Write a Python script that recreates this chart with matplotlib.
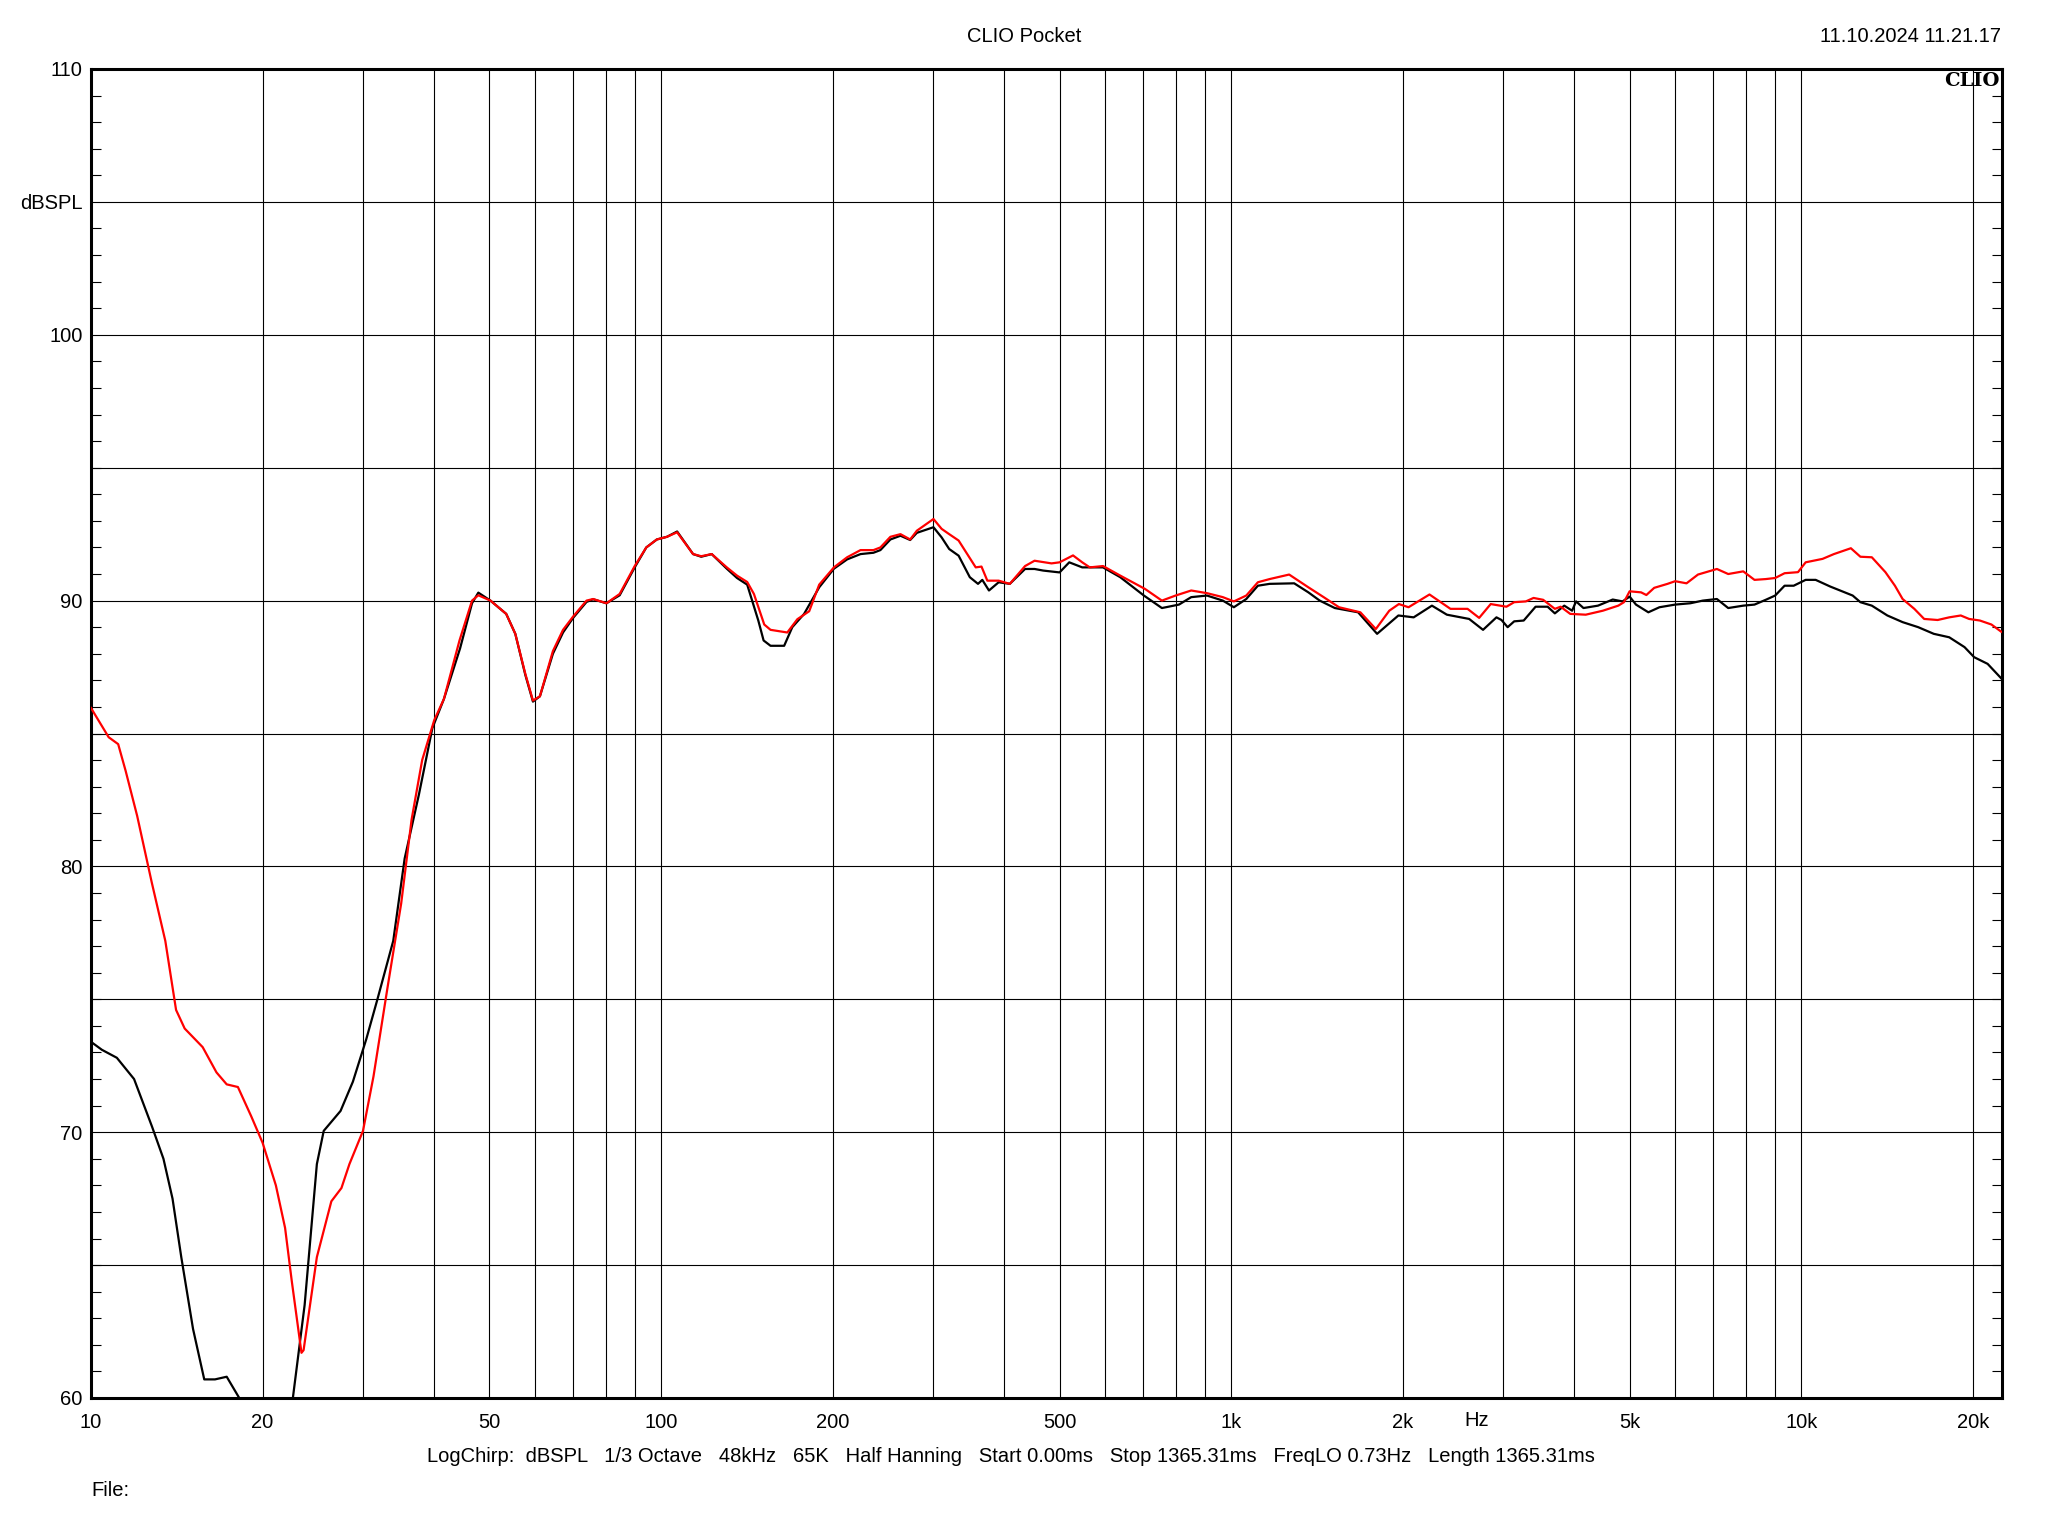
import matplotlib

matplotlib.use("Agg")
import matplotlib.pyplot as plt
from matplotlib.ticker import FixedLocator, FixedFormatter, MultipleLocator

plt.rcParams["font.family"] = ["Liberation Sans", "DejaVu Sans"]

# black trace (Hz, dBSPL); values below 60 are clipped by the axes
black_hz = [10, 10.45, 11.1, 11.9, 12.8, 13.4, 13.9, 14.4, 15.1, 15.8, 16.5, 17.3, 18.2, 19.5,
            21.5, 22.6, 23.7, 24.9, 25.6, 27.4, 28.8, 30.4, 31.8, 33.9, 35.5, 37.6, 39.7, 41.6,
            44.4, 46.6, 47.8, 50.2, 53.5, 55.5, 57.8, 59.6, 61.3, 64.6, 67.3, 70.1, 74.0, 76.0,
            80.2, 84.6, 89.9, 94.2, 98.3, 102.4, 106.7, 113.8, 117.6, 122.7, 130.4, 135.9, 141.6,
            148.1, 151.3, 155.6, 164.4, 169.9, 178.2, 189.4, 201, 212, 223.8, 235.8, 242.5, 252.5,
            263, 273.5, 281, 300.5, 310.5, 320.2, 332.6, 348, 359.7, 366, 376, 391, 409, 435, 452,
            468, 500, 520, 548, 596, 639, 703, 756, 810, 851, 907, 967, 1011, 1063, 1114, 1168,
            1290, 1366, 1430, 1520, 1670, 1803, 1965, 2090, 2250, 2390, 2615, 2766, 2920, 2980,
            3055, 3137, 3260, 3420, 3590, 3697, 3840, 3964, 4027, 4150, 4400, 4670, 4860, 5000,
            5130, 5393, 5640, 6010, 6390, 6720, 7113, 7446, 7912, 8280, 8665, 9000, 9350, 9700,
            10180, 10600, 11240, 11800, 12310, 12700, 13300, 14160, 15060, 16040, 17080, 18180,
            19340, 20110, 21230, 22600]
black_db = [73.4, 73.1, 72.8, 72.0, 70.2, 69.0, 67.5, 65.3, 62.6, 60.7, 60.7, 60.8, 60.0, 56.0,
            56.0, 60.0, 63.5, 68.8, 70.05, 70.8, 71.9, 73.5, 75.0, 77.2, 80.3, 82.7, 85.2, 86.3,
            88.2, 89.9, 90.3, 90.0, 89.5, 88.75, 87.2, 86.2, 86.4, 88.0, 88.8, 89.35, 89.95, 90.05,
            89.9, 90.2, 91.25, 92.0, 92.3, 92.4, 92.6, 91.75, 91.65, 91.75, 91.2, 90.85, 90.6,
            89.25, 88.5, 88.3, 88.3, 89.0, 89.5, 90.5, 91.2, 91.55, 91.75, 91.8, 91.9, 92.3,
            92.44, 92.28, 92.55, 92.76, 92.38, 91.94, 91.69, 90.88, 90.63, 90.78, 90.38, 90.69,
            90.63, 91.19, 91.19, 91.13, 91.06, 91.44, 91.25, 91.25, 90.88, 90.19, 89.72, 89.85,
            90.13, 90.19, 90.0, 89.75, 90.06, 90.56, 90.63, 90.65, 90.31, 90.0, 89.72, 89.56,
            88.75, 89.44, 89.37, 89.81, 89.47, 89.31, 88.9, 89.37, 89.27, 89.0, 89.22, 89.25,
            89.77, 89.77, 89.52, 89.81, 89.62, 89.97, 89.72, 89.81, 90.04, 89.97, 90.15, 89.85,
            89.56, 89.75, 89.85, 89.9, 90.0, 90.06, 89.72, 89.81, 89.85, 90.03, 90.19, 90.56,
            90.56, 90.78, 90.78, 90.53, 90.35, 90.19, 89.94, 89.81, 89.44, 89.19, 89.0, 88.75,
            88.62, 88.25, 87.87, 87.62, 87.0]

# red trace (Hz, dBSPL)
red_hz = [10, 10.74, 11.16, 11.5, 12.05, 12.78, 13.5, 14.1, 14.6, 15.7, 16.6, 17.3, 18.1, 19.1,
          20.0, 21.1, 21.9, 22.5, 23.4, 23.6, 24.9, 26.4, 27.5, 28.4, 30.0, 31.3, 33.1, 35.0,
          36.5, 38.1, 40.0, 41.6, 44.3, 46.6, 47.8, 50.2, 53.5, 55.5, 57.8, 59.6, 61.3, 64.6,
          67.3, 70.1, 74.0, 76.0, 80.2, 84.6, 89.9, 94.2, 98.3, 102.4, 106.7, 113.8, 117.6,
          122.7, 130.4, 135.9, 141.6, 145.5, 151.7, 155.6, 166.5, 173.4, 181.9, 189.4, 201, 212,
          223.8, 235.8, 242.5, 252.5, 263, 273.5, 281, 300.5, 310.5, 320.2, 332.6, 345.5, 356.4,
          364.8, 373.5, 391, 409, 435, 452, 484, 500, 528, 548, 565, 596, 639, 706, 756, 799,
          851, 907, 967, 1011, 1063, 1114, 1168, 1264, 1366, 1453, 1546, 1685, 1794, 1894, 1969,
          2047, 2228, 2425, 2598, 2723, 2853, 3040, 3137, 3288, 3392, 3526, 3697, 3784, 3934,
          4188, 4488, 4776, 4887, 5000, 5237, 5350, 5522, 5827, 6010, 6292, 6590, 7113, 7446,
          7912, 8280, 8665, 9000, 9350, 9870, 10180, 10900, 11410, 12220, 12700, 13300, 14050,
          14600, 15060, 15790, 16430, 17350, 18180, 19050, 19700, 20580, 21560, 22430]
red_db = [85.96, 84.86, 84.6, 83.6, 81.9, 79.4, 77.2, 74.6, 73.9, 73.2, 72.25, 71.8, 71.7, 70.6,
          69.6, 68.0, 66.4, 64.4, 61.7, 61.8, 65.3, 67.4, 67.9, 68.8, 70.05, 72.1, 75.4, 78.6,
          81.75, 84.0, 85.5, 86.3, 88.5, 90.0, 90.2, 90.0, 89.5, 88.75, 87.24, 86.24, 86.4, 88.1,
          88.9, 89.4, 90.0, 90.06, 89.9, 90.25, 91.3, 92.0, 92.3, 92.4, 92.57, 91.75, 91.67,
          91.75, 91.25, 90.94, 90.7, 90.25, 89.1, 88.9, 88.8, 89.3, 89.6, 90.6, 91.25, 91.63,
          91.9, 91.9, 92.0, 92.4, 92.5, 92.3, 92.63, 93.07, 92.7, 92.5, 92.26, 91.7, 91.25,
          91.28, 90.75, 90.75, 90.63, 91.3, 91.5, 91.4, 91.44, 91.7, 91.44, 91.25, 91.3, 90.94,
          90.44, 90.0, 90.19, 90.38, 90.28, 90.13, 89.97, 90.19, 90.69, 90.81, 90.98, 90.5,
          90.13, 89.75, 89.56, 88.93, 89.62, 89.87, 89.75, 90.23, 89.69, 89.69, 89.35, 89.87,
          89.77, 89.94, 89.97, 90.1, 90.03, 89.69, 89.77, 89.5, 89.47, 89.62, 89.81, 89.94,
          90.35, 90.31, 90.21, 90.48, 90.63, 90.73, 90.65, 90.98, 91.19, 91.0, 91.1, 90.78,
          90.81, 90.85, 91.03, 91.07, 91.44, 91.57, 91.75, 91.97, 91.65, 91.63, 91.07, 90.56,
          90.06, 89.69, 89.31, 89.27, 89.37, 89.44, 89.31, 89.25, 89.1, 88.83]

x_ticks = [10, 20, 50, 100, 200, 500, 1000, 2000, 5000, 10000, 20000]
x_labels = ["10", "20", "50", "100", "200", "500", "1k", "2k", "5k", "10k", "20k"]
x_grid = [20, 30, 40, 50, 60, 70, 80, 90, 100, 200, 300, 400, 500, 600, 700, 800, 900,
          1000, 2000, 3000, 4000, 5000, 6000, 7000, 8000, 9000, 10000, 20000]
y_ticks = [60, 70, 80, 90, 100, 105, 110]
y_labels = ["60", "70", "80", "90", "100", "dBSPL", "110"]

FS = 14.5
W, H = 2048, 1536
fig = plt.figure(figsize=(W / 100, H / 100), dpi=100)
ax = fig.add_axes([91 / W, 1 - 1398 / H, (2002 - 91) / W, (1398 - 69) / H])

ax.set_xscale("log")
ax.set_xlim(10, 22500)
ax.set_ylim(60, 110)

for f in x_grid:
    ax.axvline(f, color="black", lw=0.8, zorder=1)
for d in range(65, 110, 5):
    ax.axhline(d, color="black", lw=0.8, zorder=1)

ax.plot(black_hz, black_db, color="black", lw=1.6, zorder=3)
ax.plot(red_hz, red_db, color="#ff0000", lw=1.6, zorder=4)

ax.xaxis.set_major_locator(FixedLocator(x_ticks))
ax.xaxis.set_major_formatter(FixedFormatter(x_labels))
ax.xaxis.set_minor_locator(FixedLocator([]))
ax.tick_params(axis="x", which="both", length=0, pad=11, labelsize=FS)

ax.yaxis.set_major_locator(FixedLocator(y_ticks))
ax.yaxis.set_major_formatter(FixedFormatter(y_labels))
ax.yaxis.set_minor_locator(MultipleLocator(1))
ax.tick_params(axis="y", which="major", length=0, pad=6, labelsize=FS)
ax.tick_params(axis="y", which="minor", direction="in", length=7, width=0.8,
               left=True, right=True)

for s in ax.spines.values():
    s.set_linewidth(2.2)

ax.text(0.9985, 0.998, "CLIO", transform=ax.transAxes, ha="right", va="top",
        family="DejaVu Serif", fontweight="bold", fontsize=14)

fig.text(1477 / W, 1 - 1421 / H, "Hz", ha="center", va="center", fontsize=FS)
fig.text(1024 / W, 1 - 36 / H, "CLIO Pocket", ha="center", va="center", fontsize=FS)
fig.text(2001 / W, 1 - 36 / H, "11.10.2024 11.21.17", ha="right", va="center", fontsize=FS)
fig.text(1011 / W, 1 - 1457 / H,
         "LogChirp:  dBSPL   1/3 Octave   48kHz   65K   Half Hanning   Start 0.00ms   "
         "Stop 1365.31ms   FreqLO 0.73Hz   Length 1365.31ms",
         ha="center", va="center", fontsize=FS)
fig.text(91 / W, 1 - 1491 / H, "File:", ha="left", va="center", fontsize=FS)

fig.savefig("out.png", dpi=100, facecolor="white")
